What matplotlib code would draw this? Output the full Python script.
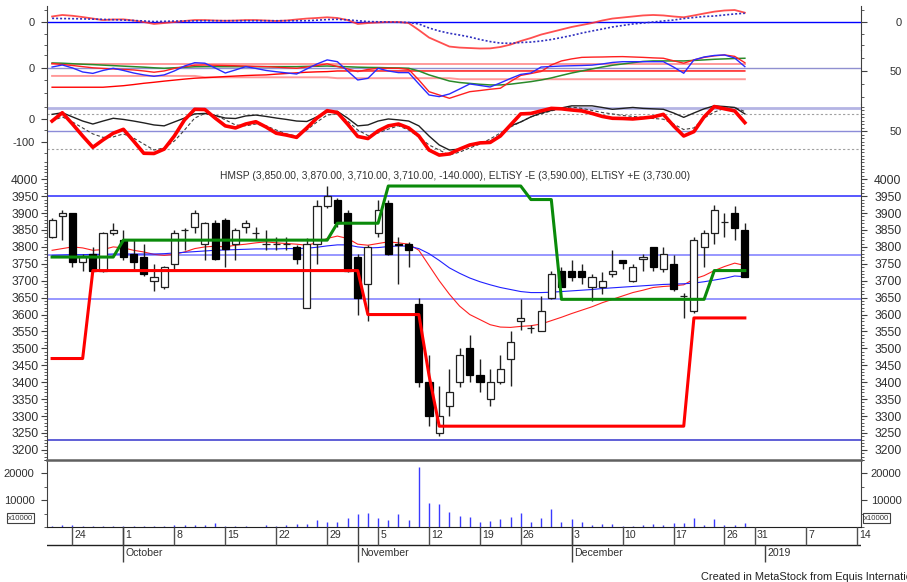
import matplotlib
matplotlib.use("Agg")
import matplotlib.pyplot as plt
import numpy as np
import pandas as pd
from matplotlib.ticker import FixedLocator, MultipleLocator
from matplotlib.transforms import ScaledTranslation

plt.rcParams["font.family"] = ["Liberation Sans", "DejaVu Sans"]
plt.rcParams["axes.unicode_minus"] = False

# ---------------------------------------------------------------- data
TRADING_DAYS = pd.bdate_range("2018-09-20", "2018-12-28").drop(
    pd.to_datetime(["2018-11-20", "2018-12-24", "2018-12-25"]))
FUTURE_DAYS = pd.bdate_range("2018-12-31", "2019-01-15")

OPEN = [3830, 3890, 3900, 3755, 3780, 3730, 3840, 3820, 3780, 3770,
        3700, 3680, 3750, 3850, 3860, 3810, 3870, 3880, 3810, 3860,
        3840, 3810, 3810, 3810, 3800, 3620, 3810, 3920, 3940, 3900,
        3770, 3690, 3840, 3930, 3810, 3810, 3630, 3400, 3250, 3330,
        3400, 3500, 3420, 3350, 3400, 3470, 3580, 3560, 3550, 3650,
        3730, 3730, 3730, 3680, 3680, 3720, 3760, 3700, 3765, 3800,
        3735, 3750, 3655, 3610, 3800, 3840, 3875, 3900, 3850]
HIGH = [3885, 3910, 3900, 3780, 3800, 3845, 3870, 3850, 3820, 3810,
        3750, 3745, 3850, 3855, 3910, 3875, 3880, 3885, 3855, 3880,
        3860, 3850, 3830, 3830, 3805, 3825, 3940, 3980, 3945, 3910,
        3780, 3805, 3940, 3940, 3830, 3815, 3650, 3480, 3390, 3440,
        3500, 3540, 3470, 3440, 3480, 3550, 3645, 3570, 3655, 3730,
        3740, 3760, 3750, 3720, 3725, 3790, 3762, 3750, 3780, 3800,
        3800, 3775, 3665, 3830, 3850, 3925, 3900, 3920, 3870]
LOW = [3825, 3820, 3740, 3730, 3725, 3725, 3835, 3760, 3730, 3715,
       3670, 3675, 3730, 3790, 3840, 3760, 3760, 3740, 3760, 3840,
       3820, 3790, 3790, 3790, 3750, 3620, 3750, 3915, 3860, 3725,
       3600, 3580, 3830, 3775, 3690, 3740, 3385, 3270, 3240, 3300,
       3385, 3400, 3370, 3330, 3395, 3390, 3555, 3545, 3550, 3645,
       3680, 3700, 3690, 3640, 3660, 3710, 3735, 3695, 3730, 3730,
       3725, 3670, 3590, 3605, 3740, 3810, 3830, 3820, 3710]
CLOSE = [3880, 3900, 3755, 3770, 3730, 3840, 3850, 3770, 3755, 3720,
         3710, 3740, 3840, 3850, 3900, 3870, 3765, 3795, 3850, 3870,
         3840, 3810, 3810, 3810, 3765, 3810, 3920, 3950, 3870, 3730,
         3650, 3800, 3910, 3780, 3805, 3790, 3400, 3300, 3300, 3370,
         3480, 3420, 3400, 3400, 3440, 3520, 3590, 3560, 3610, 3720,
         3680, 3710, 3710, 3710, 3700, 3730, 3752, 3740, 3770, 3740,
         3780, 3675, 3655, 3820, 3840, 3910, 3875, 3855, 3710]
VOLUME = [300, 900, 900, 300, 300, 500, 500, 500, 300, 300,
          500, 500, 900, 900, 600, 600, 1600, 500, 300, 300,
          100, 600, 300, 600, 1000, 1250, 2750, 1750, 1900, 3400,
          4900, 5250, 3400, 2600, 4900, 2600, 22400, 9000, 8400, 5500,
          4000, 3750, 1900, 2400, 3000, 3600, 5100, 1900, 3250, 6600,
          2000, 3000, 2000, 900, 1000, 1250, 250, 250, 750, 1000,
          600, 1600, 1600, 3250, 900, 3000, 600, 900, 1600]
MA_RED = [3790, 3795, 3800, 3797, 3790, 3792, 3800, 3797, 3790, 3785,
          3778, 3775, 3778, 3785, 3795, 3800, 3802, 3800, 3805, 3808,
          3812, 3815, 3812, 3810, 3808, 3805, 3812, 3825, 3832, 3825,
          3808, 3805, 3810, 3815, 3812, 3808, 3790, 3745, 3700, 3660,
          3625, 3600, 3585, 3570, 3563, 3562, 3565, 3567, 3572, 3582,
          3592, 3603, 3613, 3623, 3635, 3645, 3655, 3665, 3672, 3680,
          3683, 3685, 3688, 3705, 3715, 3730, 3742, 3752, 3745]
MA_BLUE = [3775, 3776, 3777, 3777, 3778, 3778, 3779, 3779, 3779, 3779,
           3779, 3780, 3782, 3784, 3786, 3788, 3790, 3791, 3792, 3793,
           3794, 3794, 3794, 3795, 3795, 3796, 3799, 3803, 3806, 3806,
           3800, 3797, 3798, 3801, 3803, 3802, 3795, 3780, 3760, 3738,
           3722, 3708, 3697, 3688, 3680, 3674, 3668, 3665, 3665, 3666,
           3668, 3670, 3672, 3674, 3677, 3679, 3681, 3683, 3685, 3687,
           3689, 3690, 3691, 3693, 3697, 3702, 3707, 3714, 3712]
ELT_MINUS = [3470] * 4 + [3730] * 27 + [3600] * 6 + [3420] + [3270] * 25 + [3590] * 6
ELT_PLUS = [3770] * 7 + [3820] * 21 + [3870] * 5 + [3980] * 14 + [3940] * 3 + [3645] * 15 + [3730] * 4
PRICE_LEVELS = [3950, 3775, 3645, 3230]
PRICE_LEVEL_COLORS = ["#2a2aff", "#7a7aff", "#7a7aff", "#3434cc"]

P1_MACD = [4.8, 6.1, 5.4, 4.3, 3.0, 1.7, 2.2, 2.3, 1.3, 0.0,
           -1.7, -0.9, 0.0, 0.9, 1.7, 1.7, 1.3, 1.1, 1.3, 1.7,
           1.7, 1.3, 0.9, 1.3, 2.2, 3.0, 3.5, 4.1, 3.5, 1.7,
           -1.7, -0.9, -0.4, 0.0, 0.0, -0.9, -7.0, -13.5, -17.4, -21.3,
           -22.2, -22.6, -23.0, -22.9, -21.7, -19.6, -16.5, -13.9, -10.9, -8.7,
           -6.5, -4.3, -2.6, -0.9, 1.3, 3.0, 3.9, 4.8, 5.7, 6.1,
           5.7, 4.8, 4.1, 5.7, 7.4, 9.0, 10.0, 10.4, 8.1]
P1_SIGNAL = [3.2, 3.0, 2.9, 2.7, 2.5, 2.3, 2.0, 1.7, 1.3, 0.9,
             0.4, 0.6, 0.8, 0.9, 1.0, 1.1, 1.1, 1.1, 1.1, 1.1,
             1.1, 1.1, 1.1, 1.1, 1.1, 1.1, 1.6, 2.1, 2.3, 1.9,
             1.1, 0.4, 0.2, 0.0, -0.2, -0.4, -1.7, -5.2, -7.8, -9.8,
             -11.3, -13.0, -15.2, -17.0, -18.3, -18.5, -17.8, -17.4, -16.5, -15.2,
             -13.5, -11.7, -9.6, -7.8, -6.1, -4.3, -3.0, -1.7, -0.9, 0.0,
             0.9, 1.7, 3.0, 3.9, 4.8, 5.2, 6.1, 7.0, 7.6]

P2_BLUE = [0.5, 2.1, -0.2, -3.4, -4.5, -2.2, -0.5, -2.2, -4.2, -5.7,
           -6.8, -5.7, -2.6, 1.3, 3.9, 3.5, -0.2, -4.2, -1.8, 0.8,
           -0.6, -2.2, -3.2, -4.1, -5.0, -1.0, 2.9, 6.1, 4.7, -2.6,
           -9.7, -8.4, -0.5, -2.6, -3.9, -3.9, -12.8, -21.5, -22.8, -20.7,
           -16.8, -12.8, -14.0, -15.2, -12.0, -8.5, -5.3, -4.2, 0.5, 0.9,
           1.3, 1.5, 1.7, 2.0, 2.9, 4.1, 4.7, 4.7, 4.7, 4.7,
           4.7, 0.5, -4.4, 6.1, 8.4, 9.6, 10.0, 7.6, 0.8]
P2_GREEN = [3.7, 3.5, 3.1, 2.7, 2.4, 2.0, 1.6, 1.2, 0.8, 0.4,
            -0.1, -0.5, -0.1, 0.3, 0.7, 0.8, 0.8, 0.8, 0.8, 0.8,
            0.8, 0.8, 0.8, 0.8, 0.8, 1.0, 1.1, 1.3, 1.0, 0.7,
            0.4, 0.2, 0.1, -0.1, -0.2, -0.5, -2.6, -5.7, -8.1, -10.5,
            -11.7, -12.4, -13.1, -13.6, -13.6, -13.0, -12.0, -11.0, -9.7, -8.1,
            -6.1, -4.2, -2.6, -1.0, 0.5, 1.9, 2.9, 3.9, 4.9, 5.3,
            5.3, 5.3, 5.3, 5.7, 6.1, 6.6, 6.9, 7.2, 7.4]
P2_RED = [3.3, 2.5, 1.7, 0.8, -0.1, -0.6, -1.0, -1.4, -1.8, -2.6,
          -3.6, -2.6, -0.6, 0.8, 1.9, 2.1, 1.9, 1.7, 1.5, 1.3,
          1.0, 0.8, 0.4, -0.1, -0.5, 0.5, 1.7, 3.0, 0.9, -1.0,
          -3.1, -1.4, -0.5, -0.5, -0.5, -1.4, -9.7, -18.9, -21.5, -24.1,
          -21.5, -18.9, -18.0, -17.0, -16.2, -10.9, -6.1, -4.6, -3.0, 2.1,
          5.3, 6.9, 8.1, 8.3, 8.4, 8.6, 8.7, 8.4, 8.1, 7.7,
          7.4, 5.4, 3.5, 6.1, 8.1, 9.3, 10.0, 8.9, 3.9]
P2_BAND_HI = [2.7] * 69
P2_BAND_LO = [-6.5] * 15 + [-7.6] * 13 + [-8.3] * 12 + [-9.1] * 29
P2_BAND_RED = [-15.4] * 6 + [-14.8, -14.2, -13.3, -12.3, -11.5, -10.6, -9.8, -9.0, -8.3,
                             -7.9, -7.5, -7.0, -6.6, -6.2, -5.9, -5.7, -5.1, -4.6, -4.1,
                             -3.6, -3.3, -3.1] + [-2.6] * 41

P3_RED = [-9, 27, -22, -74, -123, -91, -62, -45, -96, -149,
          -150, -131, -74, -4, 42, 41, 4, -30, -39, -22,
          -12, -35, -62, -70, -80, -39, 4, 36, 28, -22,
          -76, -85, -52, -30, -22, -39, -74, -135, -157, -152,
          -131, -113, -104, -102, -74, -26, 22, 24, 35, 46,
          44, 39, 35, 24, 11, 3, 2, 0, 4, 9,
          20, -30, -74, -55, 9, 54, 44, 35, -16]
P3_BLACK = [20, 27, 9, -9, -22, -9, 3, -2, -9, -17,
            -26, -30, -13, 4, 22, 24, 15, 4, 2, 13,
            17, 11, 4, -2, -9, -11, 9, 30, 33, 4,
            -30, -26, -9, 0, -4, -9, -30, -74, -113, -135,
            -131, -113, -104, -98, -70, -30, -13, 9, 26, 37,
            48, 57, 57, 57, 50, 42, 46, 50, 46, 44,
            42, 26, 7, 26, 44, 57, 54, 50, 22]
P3_DASH = [-9, 9, -13, -39, -65, -80, -78, -65, -83, -109,
           -135, -126, -96, -48, 4, 24, 17, -4, -26, -30,
           -22, -30, -48, -65, -74, -48, -13, 17, 22, -9,
           -48, -72, -61, -44, -30, -48, -78, -113, -135, -157,
           -144, -126, -109, -87, -61, -35, -13, 9, 22, 35,
           46, 52, 46, 37, 28, 22, 15, 11, 7, 2,
           -1, -22, -46, -39, 4, 30, 46, 50, 32]

TITLE = ("HMSP (3,850.00, 3,870.00, 3,710.00, 3,710.00, -140.000), "
         "ELTiSY -E (3,590.00), ELTiSY +E (3,730.00)")

# ---------------------------------------------------------------- layout
W, H = 907, 582
X0, X1 = 47, 861
AXIS = "#404040"
LABEL = "#303030"
PRICE_FS = 8.7
SMALL_FS = 8.0
DATE_FS = 7.6


def rect(top, bottom):
    return [X0 / W, 1 - bottom / H, (X1 - X0) / W, (bottom - top) / H]


def style(ax, left_pad_px, size):
    ax.set_facecolor("none")
    for side in ("top", "bottom"):
        ax.spines[side].set_visible(False)
    ax.spines["left"].set_color(AXIS)
    ax.spines["right"].set_visible(False)
    ax.tick_params(axis="x", which="both", bottom=False, labelbottom=False)
    ax.tick_params(axis="y", which="both", direction="out", colors=AXIS,
                   labelcolor=LABEL, labelsize=size)
    ax.tick_params(axis="y", which="major", length=4, width=0.8,
                   pad=(left_pad_px - 4) * 0.72)
    ax.tick_params(axis="y", which="minor", length=2.5, width=0.6)


def right_scale(ax, forward, inverse, majors, minor_step, label_px, size):
    sec = ax.secondary_yaxis("right", functions=(forward, inverse))
    sec.yaxis.set_major_locator(FixedLocator(majors))
    sec.yaxis.set_minor_locator(MultipleLocator(minor_step))
    sec.spines["right"].set_color(AXIS)
    sec.tick_params(which="both", direction="out", colors=AXIS,
                    labelcolor=LABEL, labelsize=size)
    sec.tick_params(which="major", length=4, width=0.8,
                    pad=(label_px - 4) * 0.72)
    sec.tick_params(which="minor", length=2.5, width=0.6)
    for t in sec.yaxis.get_major_ticks():
        t.label2.set_horizontalalignment("right")
    return sec


fig = plt.figure(figsize=(W / 100, H / 100), dpi=100)
ax1 = fig.add_axes(rect(6, 50))
ax2 = fig.add_axes(rect(50, 104), sharex=ax1)
ax3 = fig.add_axes(rect(104, 162), sharex=ax1)
axp = fig.add_axes(rect(162, 460), sharex=ax1)
axv = fig.add_axes(rect(460, 527), sharex=ax1)
axx = fig.add_axes(rect(527, 572), sharex=ax1)

idx = np.arange(len(CLOSE))
ax1.set_xlim(-0.5, 79.4)

# ---------------------------------------------------------------- panel 1
style(ax1, 11, SMALL_FS)
ax1.set_ylim(-24.3, 13.9)
ax1.axhline(0, color="#0000ff", lw=1.0)
ax1.plot(idx, P1_MACD, color="#ff3030", lw=1.3, alpha=0.85)
ax1.plot(idx, P1_SIGNAL, color="#3030c0", lw=1.2, ls=(0, (1.2, 1.2)))
ax1.yaxis.set_major_locator(FixedLocator([0]))
ax1.yaxis.set_minor_locator(MultipleLocator(10))
right_scale(ax1, lambda v: v, lambda v: v, [0], 10, 39, SMALL_FS)

# ---------------------------------------------------------------- panel 2
style(ax2, 11, SMALL_FS)
ax2.set_ylim(-28.6, 13.9)
ax2.axhline(0, color="#9090d0", lw=1.0)
ax2.plot(idx, P2_BAND_HI, color="#ff8080", lw=1.4, alpha=0.8)
ax2.plot(idx, P2_BAND_LO, color="#ff8080", lw=1.4, alpha=0.8)
ax2.plot(idx, P2_BAND_RED, color="#ff0000", lw=1.0)
ax2.plot(idx, P2_GREEN, color="#2a8a2a", lw=1.1)
ax2.plot(idx, P2_RED, color="#ff2020", lw=1.0)
ax2.plot(idx, P2_BLUE, color="#2a2aff", lw=1.0)
ax2.yaxis.set_major_locator(FixedLocator([0]))
ax2.yaxis.set_minor_locator(MultipleLocator(10))
right_scale(ax2, lambda v: 50 + (v + 2.6) * 2.44,
            lambda r: (r - 50) / 2.44 - 2.6, [50], 25, 39, SMALL_FS)

# ---------------------------------------------------------------- panel 3
style(ax3, 11, SMALL_FS)
ax3.set_ylim(-187, 65)
ax3.axhline(48, color="#b4b4e4", lw=2.0)
ax3.axhline(22, color="#a0a0a0", lw=0.8, ls=(0, (2, 2)))
ax3.axhline(-54, color="#8c8cd8", lw=1.0)
ax3.axhline(-130, color="#a0a0a0", lw=0.8, ls=(0, (2, 2)))
ax3.plot(idx, P3_DASH, color="#404040", lw=0.8, ls=(0, (3, 2)))
ax3.plot(idx, P3_BLACK, color="#202020", lw=1.0)
ax3.plot(idx, P3_RED, color="#ff0000", lw=2.6, solid_joinstyle="round")
ax3.yaxis.set_major_locator(FixedLocator([0, -100]))
ax3.yaxis.set_minor_locator(MultipleLocator(50))
right_scale(ax3, lambda v: (v + 130) / 1.52, lambda r: r * 1.52 - 130,
            [50], 10, 39, SMALL_FS)

# ---------------------------------------------------------------- price
style(axp, 7, PRICE_FS)
axp.set_ylim(3170, 4051)
for level, col in zip(PRICE_LEVELS, PRICE_LEVEL_COLORS):
    axp.axhline(level, color=col, lw=1.1, zorder=1)
axp.plot(idx, MA_RED, color="#ff2020", lw=0.8, zorder=2)
axp.plot(idx, MA_BLUE, color="#2020ff", lw=0.8, zorder=2)

o, h, l, c = (np.array(a, dtype=float) for a in (OPEN, HIGH, LOW, CLOSE))
up = c >= o
lo, hi = np.minimum(o, c), np.maximum(o, c)
axp.vlines(idx, l, h, color="#202020", lw=1.0, zorder=3)
axp.bar(idx[up], (hi - lo)[up], bottom=lo[up], width=0.7, facecolor="white",
        edgecolor="#202020", linewidth=0.9, zorder=4)
axp.bar(idx[~up], (hi - lo)[~up], bottom=lo[~up], width=0.7, facecolor="black",
        edgecolor="black", linewidth=0.9, zorder=4)

axp.plot(idx, ELT_MINUS, color="#ff0000", lw=2.2, zorder=5)
axp.plot(idx, ELT_PLUS, color="#0a8a0a", lw=2.2, zorder=5)
axp.yaxis.set_major_locator(FixedLocator(list(range(3200, 4001, 50))))
axp.yaxis.set_minor_locator(MultipleLocator(10))
right_scale(axp, lambda v: v, lambda v: v, list(range(3200, 4001, 50)), 10, 39, PRICE_FS)
axp.text(0.2125, 0.953, TITLE, transform=axp.transAxes, fontsize=7.4,
         color="#333333", va="center", ha="left")

# ---------------------------------------------------------------- volume
style(axv, 11, SMALL_FS)
axv.spines["top"].set_visible(True)
axv.spines["top"].set_color("#606060")
axv.spines["top"].set_linewidth(1.8)
axv.spines["bottom"].set_visible(True)
axv.spines["bottom"].set_color("#202020")
axv.set_ylim(0, 25000)
axv.vlines(idx, 0, VOLUME, color="#3a3aff", lw=1.0)
axv.yaxis.set_major_locator(FixedLocator([10000, 20000]))
axv.yaxis.set_minor_locator(MultipleLocator(5000))
right_scale(axv, lambda v: v, lambda v: v, [10000, 20000], 5000, 39, SMALL_FS)
for xpos in (-0.0326, 1.019):
    axv.text(xpos, 0.134, "x10000", transform=axv.transAxes, fontsize=5.6,
             color="#333333", ha="center", va="center",
             bbox=dict(boxstyle="square,pad=0.15", fc="white", ec="#404040", lw=0.8))

# ---------------------------------------------------------------- date axis
axx.axis("off")
axx.set_ylim(45, 0)
axx.axhline(18, color="#202020", lw=1.0)
all_days = TRADING_DAYS.append(FUTURE_DAYS)
shift = axx.transData + ScaledTranslation(2 / 100, 0, fig.dpi_scale_trans)
for k in range(1, len(all_days)):
    day, prev = all_days[k], all_days[k - 1]
    if day.weekday() < prev.weekday():
        axx.vlines(k, 0, 18, color="#505050", lw=1.0)
        t = axx.text(k, 2.5, str(day.day), transform=shift, fontsize=DATE_FS,
                     color=LABEL, ha="left", va="top")
        t.set_clip_box(axx.bbox)
    if day.month != prev.month:
        axx.vlines(k, 0 if k < len(CLOSE) else 18, 35, color="#404040", lw=1.0)
        name = str(day.year) if day.month == 1 else day.strftime("%B")
        t = axx.text(k, 21, name, transform=shift, fontsize=DATE_FS,
                     color=LABEL, ha="left", va="top")
        t.set_clip_box(axx.bbox)

fig.text(701 / W, 1 - 577 / H, "Created in MetaStock from Equis International",
         fontsize=7.9, color="#222222", va="center")

fig.savefig("out.png", dpi=100, facecolor="white")
